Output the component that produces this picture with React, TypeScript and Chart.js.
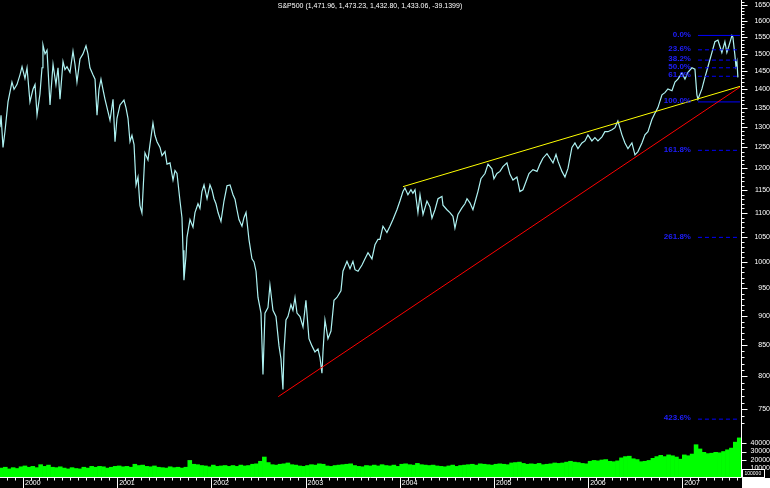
import React, { useEffect, useRef } from 'react';
import { Chart, registerables } from 'chart.js';

Chart.register(...registerables);

const TITLE = 'S&P500 (1,471.96, 1,473.23, 1,432.80, 1,433.06, -39.1399)';
const FONT = "'Liberation Sans', Arial, sans-serif";

// time axis range (decimal years)
const X_MIN = 1999.756;
const X_MAX = 2007.623;
const yearLabels = ['2000', '2001', '2002', '2003', '2004', '2005', '2006', '2007'];

// S&P500 closes (decimal-year dates / index values)
const priceDates = [
  1999.756, 1999.767, 1999.788, 1999.809, 1999.841, 1999.883, 1999.905, 1999.936, 1999.968, 1999.990,
  2000.021, 2000.043, 2000.074, 2000.106, 2000.128, 2000.149, 2000.180, 2000.202, 2000.212, 2000.234,
  2000.255, 2000.287, 2000.319, 2000.350, 2000.372, 2000.393, 2000.425, 2000.446, 2000.467, 2000.499,
  2000.531, 2000.552, 2000.573, 2000.605, 2000.637, 2000.669, 2000.690, 2000.711, 2000.743, 2000.765,
  2000.786, 2000.807, 2000.828, 2000.849, 2000.871, 2000.903, 2000.924, 2000.956, 2000.977, 2000.998,
  2001.030, 2001.072, 2001.094, 2001.115, 2001.136, 2001.157, 2001.179, 2001.200, 2001.221, 2001.242,
  2001.263, 2001.295, 2001.327, 2001.348, 2001.380, 2001.401, 2001.423, 2001.455, 2001.476, 2001.508,
  2001.529, 2001.561, 2001.593, 2001.614, 2001.635, 2001.667, 2001.688, 2001.699, 2001.709, 2001.730,
  2001.741, 2001.773, 2001.805, 2001.826, 2001.858, 2001.879, 2001.900, 2001.922, 2001.954, 2001.985,
  2002.007, 2002.028, 2002.049, 2002.071, 2002.102, 2002.134, 2002.166, 2002.198, 2002.230, 2002.251,
  2002.272, 2002.293, 2002.325, 2002.346, 2002.368, 2002.399, 2002.431, 2002.453, 2002.474, 2002.495,
  2002.527, 2002.548, 2002.569, 2002.601, 2002.622, 2002.654, 2002.686, 2002.718, 2002.739, 2002.760,
  2002.771, 2002.792, 2002.813, 2002.845, 2002.866, 2002.888, 2002.909, 2002.941, 2002.973, 2003.004,
  2003.036, 2003.068, 2003.100, 2003.132, 2003.153, 2003.174, 2003.185, 2003.206, 2003.238, 2003.270,
  2003.302, 2003.333, 2003.376, 2003.397, 2003.440, 2003.472, 2003.503, 2003.525, 2003.557, 2003.599,
  2003.631, 2003.663, 2003.705, 2003.737, 2003.769, 2003.790, 2003.822, 2003.864, 2003.896, 2003.928,
  2003.970, 2004.002, 2004.034, 2004.055, 2004.087, 2004.119, 2004.140, 2004.162, 2004.193, 2004.215,
  2004.247, 2004.289, 2004.321, 2004.342, 2004.374, 2004.406, 2004.448, 2004.459, 2004.501, 2004.533,
  2004.565, 2004.586, 2004.618, 2004.660, 2004.692, 2004.714, 2004.745, 2004.777, 2004.809, 2004.830,
  2004.862, 2004.905, 2004.937, 2004.979, 2005.000, 2005.032, 2005.064, 2005.096, 2005.138, 2005.170,
  2005.202, 2005.244, 2005.276, 2005.308, 2005.340, 2005.372, 2005.414, 2005.457, 2005.489, 2005.520,
  2005.563, 2005.595, 2005.627, 2005.659, 2005.680, 2005.722, 2005.754, 2005.786, 2005.828, 2005.860,
  2005.892, 2005.934, 2005.966, 2005.998, 2006.040, 2006.072, 2006.104, 2006.147, 2006.178, 2006.210,
  2006.253, 2006.285, 2006.316, 2006.359, 2006.391, 2006.423, 2006.465, 2006.497, 2006.529, 2006.571,
  2006.603, 2006.635, 2006.677, 2006.709, 2006.741, 2006.784, 2006.815, 2006.847, 2006.890, 2006.922,
  2006.953, 2006.996, 2007.028, 2007.060, 2007.102, 2007.134, 2007.155, 2007.166, 2007.208, 2007.240,
  2007.272, 2007.314, 2007.346, 2007.378, 2007.420, 2007.452, 2007.473, 2007.495, 2007.527, 2007.537,
  2007.558, 2007.569, 2007.580, 2007.590,
];
const priceValues = [
  1300, 1331, 1250, 1290, 1366, 1420, 1400, 1413, 1440, 1463,
  1430, 1460, 1366, 1400, 1413, 1332, 1387, 1460, 1527, 1500,
  1511, 1358, 1470, 1413, 1460, 1373, 1478, 1455, 1463, 1447,
  1508, 1470, 1420, 1485, 1500, 1524, 1500, 1460, 1440, 1428,
  1331, 1400, 1428, 1400, 1373, 1340, 1318, 1373, 1264, 1323,
  1358, 1371, 1350, 1323, 1264, 1280, 1257, 1162, 1180, 1116,
  1100, 1237, 1220, 1257, 1311, 1280, 1264, 1250, 1230, 1240,
  1210, 1213, 1173, 1195, 1188, 1126, 1090, 1023, 965, 1010,
  1049, 1086, 1070, 1101, 1120, 1110, 1147, 1162, 1131, 1162,
  1150, 1131, 1120, 1101, 1082, 1126, 1160, 1162, 1140, 1130,
  1107, 1086, 1072, 1090, 1101, 1045, 1006, 1000, 982, 933,
  905, 803, 905, 915, 956, 910, 899, 849, 828, 780,
  840, 893, 899, 920, 910, 933, 905, 899, 881, 928,
  861, 849, 839, 844, 830, 805, 839, 893, 861, 874,
  928, 933, 945, 982, 1001, 987, 1001, 985, 982, 994,
  1006, 1018, 1006, 1034, 1045, 1045, 1072, 1059, 1072, 1086,
  1107, 1126, 1147, 1155, 1140, 1151, 1143, 1151, 1101, 1140,
  1097, 1126, 1113, 1089, 1107, 1131, 1136, 1117, 1107, 1101,
  1093, 1068, 1097, 1111, 1120, 1131, 1122, 1107, 1131, 1147,
  1176, 1188, 1210, 1199, 1176, 1188, 1193, 1204, 1213, 1186,
  1173, 1180, 1147, 1151, 1169, 1188, 1197, 1193, 1210, 1224,
  1235, 1224, 1213, 1233, 1217, 1193, 1180, 1200, 1250, 1261,
  1247, 1261, 1266, 1281, 1266, 1274, 1266, 1276, 1289, 1289,
  1294, 1299, 1316, 1281, 1261, 1247, 1261, 1232, 1240, 1261,
  1281, 1289, 1320, 1336, 1351, 1385, 1391, 1401, 1396, 1420,
  1428, 1445, 1428, 1447, 1460, 1456, 1385, 1373, 1401, 1433,
  1463, 1504, 1536, 1541, 1504, 1536, 1504, 1524, 1555, 1550,
  1497, 1465, 1478, 1433,
];

// volume (x100000), two values per month
const vol1999 = [10500, 11500, 9500, 11000, 10000, 12000]; // from October
const vol2000 = [13000, 11500, 12500, 11000, 14500, 12500, 14000, 11500, 11000, 12000, 10500, 9500, 11000, 10000, 9500, 11500, 10500, 12500, 11500, 12500, 12000, 10500, 11500, 12500];
const vol2001 = [13000, 12000, 12500, 11500, 15000, 13500, 14000, 12500, 12000, 13000, 11500, 11000, 10500, 12000, 11000, 11500, 10500, 11500, 19500, 15000, 14500, 13500, 13000, 12000];
const vol2002 = [14000, 12500, 13000, 13500, 12500, 13500, 12500, 14000, 13000, 13500, 15000, 15500, 18500, 23500, 17000, 14500, 14000, 15000, 15500, 16500, 14500, 14000, 13000, 12500];
const vol2003 = [13500, 14500, 14000, 15500, 15000, 13000, 12500, 13500, 14000, 14500, 15000, 15500, 13500, 12500, 12000, 13500, 13000, 14000, 13000, 14500, 13500, 13000, 14000, 12500];
const vol2004 = [15000, 15500, 14500, 14000, 16000, 14500, 14000, 13500, 14000, 13000, 12500, 12000, 13000, 14000, 12500, 13500, 14000, 14500, 15000, 14000, 15500, 15000, 14500, 14000];
const vol2005 = [15000, 15500, 15000, 14500, 16500, 17000, 17500, 16000, 15000, 15500, 15000, 16000, 14500, 15000, 15500, 16500, 16000, 16500, 17500, 18500, 17500, 17000, 16000, 15500];
const vol2006 = [18500, 19500, 19000, 20000, 20500, 18500, 18000, 19000, 22500, 24000, 24500, 21500, 20500, 18000, 18500, 19500, 22000, 24000, 25500, 24000, 26000, 25000, 23500, 21000];
const vol2007 = [26000, 25000, 27000, 38000, 33000, 29000, 27500, 28000, 29000, 28500, 30000, 32000, 34000, 41000, 46000];

// trend lines
const resistanceDates = [2004.034, 2007.612];
const resistanceValues = [1158, 1408];
const supportDates = [2002.71, 2007.612];
const supportValues = [769, 1406];

// Fibonacci levels
const fibLabels = ['0.0%', '23.6%', '38.2%', '50.0%', '61.8%', '100.0%', '161.8%', '261.8%', '423.6%'];
const fibLevels = [1555, 1512, 1482, 1460, 1436, 1366, 1243, 1049, 736];
const fibDashed = [false, true, true, true, true, false, true, true, true];
const fibStart = 2007.166;
const fibEnd = 2007.612;

// axis ticks
const priceTicks = [750, 800, 850, 900, 950, 1000, 1050, 1100, 1150, 1200, 1250, 1300, 1350, 1400, 1450, 1500, 1550, 1600, 1650];
const volumeTicks = [10000, 20000, 30000, 40000];
const VOL_UNIT = '100000';

const pts = (xs: number[], ys: number[]) => xs.map((x, i) => ({ x, y: ys[i] }));

function volumePoints() {
  const years: [number, number, number[]][] = [
    [1999, 9, vol1999], [2000, 0, vol2000], [2001, 0, vol2001], [2002, 0, vol2002],
    [2003, 0, vol2003], [2004, 0, vol2004], [2005, 0, vol2005], [2006, 0, vol2006], [2007, 0, vol2007],
  ];
  const out: { x: number; y: number }[] = [];
  for (const [yr, m0, arr] of years) {
    arr.forEach((v, i) => out.push({ x: yr + (m0 * 2 + i + 0.5) / 24, y: v }));
  }
  return out;
}

const noPad = (s: any) => {
  s.paddingTop = 0; s.paddingBottom = 0; s.paddingLeft = 0; s.paddingRight = 0;
};

const decor = {
  id: 'decor',
  beforeDraw(chart: any) {
    const { ctx, width, height } = chart;
    ctx.save();
    ctx.fillStyle = '#000';
    ctx.fillRect(0, 0, width, height);
    ctx.restore();
  },
  afterDraw(chart: any) {
    const { ctx, chartArea: ca, scales, width, height } = chart;
    const xs = scales.x, ys = scales.y, yv = scales.yv;
    ctx.save();
    ctx.strokeStyle = '#fff';
    ctx.lineWidth = 1;
    ctx.beginPath();
    const ax = Math.round(ca.right) + 0.5;
    const by = Math.round(ca.bottom) + 0.5;
    ctx.moveTo(ax, 0); ctx.lineTo(ax, by);
    ctx.moveTo(0, by); ctx.lineTo(ax, by);
    for (let v = 730; v <= 1660; v += 10) {
      const py = Math.round(ys.getPixelForValue(v)) + 0.5;
      if (py < ys.top || py > ys.bottom) continue;
      const len = v % 50 === 0 ? 6 : 3;
      ctx.moveTo(ax, py); ctx.lineTo(ax + len, py);
    }
    for (const v of volumeTicks) {
      const py = Math.round(yv.getPixelForValue(v)) + 0.5;
      ctx.moveTo(ax, py); ctx.lineTo(ax + 5, py);
    }
    for (let yr = 1999; yr <= 2007; yr++) {
      for (let m = 0; m < 12; m++) {
        const v = yr + m / 12;
        if (v < X_MIN || v > X_MAX) continue;
        const px = Math.round(xs.getPixelForValue(v)) + 0.5;
        ctx.moveTo(px, by); ctx.lineTo(px, m === 0 ? height : by + 3);
      }
    }
    ctx.stroke();

    // bottom right corner
    ctx.fillStyle = '#fff';
    ctx.fillRect(Math.round(ca.right) + 1, Math.round(ca.bottom) + 1, width, height);

    // volume unit box
    ctx.fillStyle = '#000';
    ctx.fillRect(ax + 1, by - 8, 22, 8);
    ctx.strokeRect(ax + 1, by - 8, 22, 8);
    ctx.fillStyle = '#fff';
    ctx.font = `5px ${FONT}`;
    ctx.textAlign = 'left';
    ctx.textBaseline = 'middle';
    ctx.fillText(VOL_UNIT, ax + 3, by - 4);

    // title
    ctx.font = `7px ${FONT}`;
    ctx.textAlign = 'center';
    ctx.textBaseline = 'middle';
    ctx.fillStyle = '#fff';
    ctx.fillText(TITLE, 370, 6);

    // fib labels
    ctx.font = `bold 8px ${FONT}`;
    ctx.textAlign = 'right';
    ctx.fillStyle = '#1e1eff';
    const lx = xs.getPixelForValue(fibStart) - 7;
    fibLabels.forEach((t, i) => {
      ctx.fillText(t, lx, ys.getPixelForValue(fibLevels[i]) - 1);
    });
    ctx.restore();
  },
};

export default function App() {
  const ref = useRef<HTMLCanvasElement>(null);
  useEffect(() => {
    document.body.style.margin = '0';
    document.body.style.background = '#000';
    const canvas = ref.current!;
    const lineBase = { type: 'line', pointRadius: 0, borderWidth: 1, tension: 0, fill: false, xAxisID: 'x', yAxisID: 'y' };
    const fibSets = fibLevels.map((lv, i) => ({
      ...lineBase,
      data: pts([fibStart, fibEnd], [lv, lv]),
      borderColor: '#0000ff',
      borderDash: fibDashed[i] ? [4, 3] : [],
    }));
    const chart = new Chart(canvas, {
      type: 'line',
      data: {
        datasets: [
          { ...lineBase, data: pts(resistanceDates, resistanceValues), borderColor: '#ffff00' },
          { ...lineBase, data: pts(supportDates, supportValues), borderColor: '#ff0000' },
          ...fibSets,
          { ...lineBase, data: pts(priceDates, priceValues), borderColor: '#aef2f2', borderWidth: 1.2 },
          {
            type: 'bar', data: volumePoints(), backgroundColor: '#00ff00', borderWidth: 0,
            barPercentage: 1, categoryPercentage: 1, xAxisID: 'x', yAxisID: 'yv',
          },
        ] as any,
      },
      options: {
        responsive: false,
        animation: false,
        devicePixelRatio: 1,
        events: [],
        layout: { padding: 0 },
        plugins: { legend: { display: false }, tooltip: { enabled: false }, title: { display: false } },
        scales: {
          x: {
            type: 'linear', min: X_MIN, max: X_MAX, offset: false,
            afterBuildTicks: (s: any) => {
              const t: any[] = [];
              for (let yr = 1999; yr <= 2007; yr++) for (let m = 0; m < 12; m++) {
                const v = yr + m / 12;
                if (v >= X_MIN && v <= X_MAX) t.push({ value: v });
              }
              s.ticks = t;
            },
            ticks: {
              autoSkip: false, maxRotation: 0, color: '#fff', padding: 2, align: 'start', labelOffset: 2,
              font: { size: 7, family: FONT },
              callback: (v: any) => {
                const r = Math.round(v);
                return Math.abs(v - r) < 1e-6 && yearLabels.includes(String(r)) ? String(r) : '';
              },
            },
            grid: { display: false, drawTicks: false },
            border: { display: false },
            afterFit: (s: any) => { s.height = 11; noPad(s); },
          },
          y: {
            type: 'logarithmic', position: 'right', stack: 'right', stackWeight: 430,
            min: 720.6, max: 1666.2,
            afterBuildTicks: (s: any) => { s.ticks = priceTicks.map((v) => ({ value: v })); },
            ticks: {
              autoSkip: false, color: '#fff', padding: 11, crossAlign: 'far',
              font: { size: 7, family: FONT },
              callback: (v: any) => String(v),
            },
            grid: { display: false, drawTicks: false },
            border: { display: false },
            afterFit: (s: any) => { s.width = 29; noPad(s); },
          },
          yv: {
            type: 'linear', position: 'right', stack: 'right', stackWeight: 47,
            min: 0, max: 55300,
            afterBuildTicks: (s: any) => { s.ticks = volumeTicks.map((v) => ({ value: v })); },
            ticks: {
              autoSkip: false, color: '#fff', padding: 7, crossAlign: 'far',
              font: { size: 7, family: FONT },
              callback: (v: any) => String(v),
            },
            grid: { display: false, drawTicks: false },
            border: { display: false },
            afterFit: (s: any) => { s.width = 29; noPad(s); },
          },
        } as any,
      },
      plugins: [decor],
    } as any);
    return () => chart.destroy();
  }, []);
  return <canvas ref={ref} width={770} height={488} style={{ display: 'block', width: 770, height: 488 }} />;
}
